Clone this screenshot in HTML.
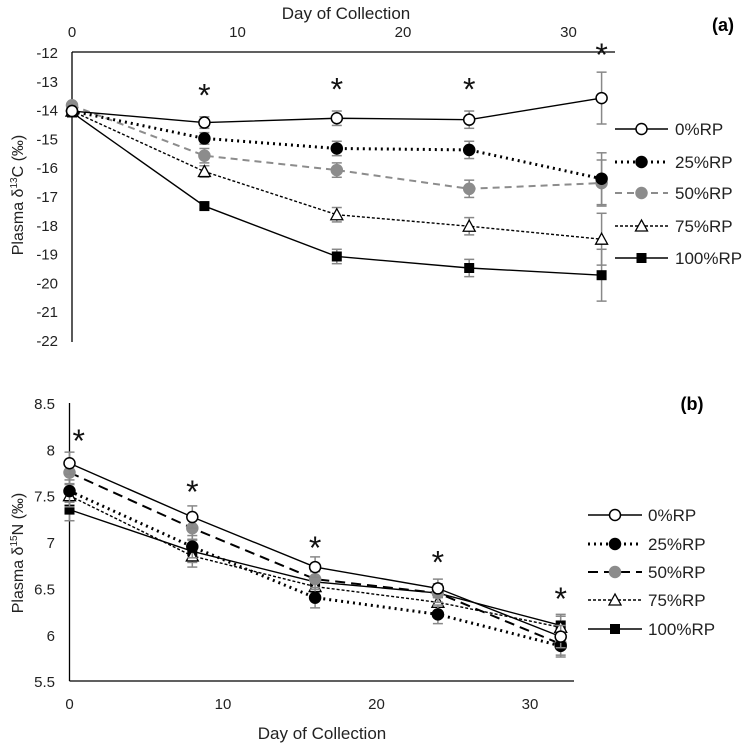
<!DOCTYPE html>
<html><head><meta charset="utf-8"><style>
html,body{margin:0;padding:0;background:#fff;}
svg{display:block;font-family:"Liberation Sans",sans-serif;}
</style></head><body>
<svg id="chart" width="751" height="746" viewBox="0 0 751 746" xmlns="http://www.w3.org/2000/svg"></svg>
<script>
const days = [0, 8, 16, 24, 32];
const seriesNames = ["0%RP", "25%RP", "50%RP", "75%RP", "100%RP"];
// Panel (a) δ13C
const c0 = [-14.05, -14.45, -14.3, -14.35, -13.6];
const c25 = [-14.05, -15.0, -15.35, -15.4, -16.4];
const c50 = [-13.85, -15.6, -16.1, -16.75, -16.55];
const c75 = [-14.05, -16.15, -17.65, -18.05, -18.5];
const c100 = [-14.1, -17.35, -19.1, -19.5, -19.75];
const cErr0 = [0.1, 0.2, 0.25, 0.3, 0.9];
const cErr25 = [0.1, 0.2, 0.25, 0.3, 0.9];
const cErr50 = [0.1, 0.25, 0.25, 0.3, 0.8];
const cErr75 = [0.1, 0.2, 0.25, 0.3, 0.9];
const cErr100 = [0.1, 0.1, 0.25, 0.3, 0.9];
const aTicksX = [0, 10, 20, 30];
const aTicksY = [-12, -13, -14, -15, -16, -17, -18, -19, -20, -21, -22];
const aStarDays = [8, 16, 24, 32];
const aStarVals = [-13.4, -13.2, -13.2, -12.0];
// Panel (b) δ15N
const n0 = [7.85, 7.27, 6.73, 6.5, 5.98];
const n25 = [7.55, 6.95, 6.4, 6.22, 5.88];
const n50 = [7.75, 7.15, 6.6, 6.45, 5.9];
const n75 = [7.5, 6.85, 6.52, 6.35, 6.08];
const n100 = [7.35, 6.9, 6.57, 6.45, 6.1];
const nErr = [0.12, 0.12, 0.11, 0.1, 0.12];
const bTicksX = [0, 10, 20, 30];
const bTicksY = [8.5, 8, 7.5, 7, 6.5, 6, 5.5];
const bStarDays = [0.6, 8, 16, 24, 32];
const bStarVals = [8.12, 7.57, 6.97, 6.81, 6.42];

const svg = document.getElementById('chart');
const NS = 'http://www.w3.org/2000/svg';
function mk(tag, attrs, parent) {
  const e = document.createElementNS(NS, tag);
  for (const k in attrs) e.setAttribute(k, attrs[k]);
  (parent || svg).appendChild(e);
  return e;
}
const axA = { x: d => 72 + d * 16.55, y: v => 52 + (-12 - v) * 28.8 };
const axB = { x: d => 69.5 + d * 15.35, y: v => 403 + (8.5 - v) * 92.7 };

const stylesA = [
  {stroke:'#000', dash:'', marker:'circle', fill:'#fff', mc:'#000', ec:'#888'},
  {stroke:'#000', dash:'2,4', marker:'circle', fill:'#000', mc:'#000', ec:'#888', w:3},
  {stroke:'#8c8c8c', dash:'7,5', marker:'circle', fill:'#8c8c8c', mc:'#8c8c8c', ec:'#888', w:2},
  {stroke:'#000', dash:'3,2', marker:'tri', fill:'#fff', mc:'#000', ec:'#888'},
  {stroke:'#000', dash:'', marker:'square', fill:'#000', mc:'#000', ec:'#888'}
];
const stylesB = stylesA.map((s,i)=> i===2 ? Object.assign({}, s, {stroke:'#000', dash:'10,6'}) : s);

function marker(g, type, x, y, st) {
  let m;
  if (type === 'circle') m = mk('circle', {cx:x, cy:y, r:5.5, fill:st.fill, stroke:st.mc, 'stroke-width':1.5}, g);
  else if (type === 'tri') m = mk('polygon', {points:`${x},${y-6} ${x-6},${y+5} ${x+6},${y+5}`, fill:st.fill, stroke:st.mc, 'stroke-width':1.3}, g);
  else m = mk('rect', {x:x-5, y:y-5, width:10, height:10, fill:st.fill}, g);
  
  
}

function drawSeries(ax, vals, errs, st, name) {
  const g = mk('g', {});
  
  
  days.forEach((d, i) => {
    const x = ax.x(d), y1 = ax.y(vals[i] + errs[i]), y2 = ax.y(vals[i] - errs[i]);
    mk('line', {x1:x, x2:x, y1:y1, y2:y2, stroke:st.ec, 'stroke-width':1.5}, g);
    mk('line', {x1:x-5, x2:x+5, y1:y1, y2:y1, stroke:st.ec, 'stroke-width':1.5}, g);
    mk('line', {x1:x-5, x2:x+5, y1:y2, y2:y2, stroke:st.ec, 'stroke-width':1.5}, g);
  });
  const pts = days.map((d, i) => `${ax.x(d)},${ax.y(vals[i])}`).join(' ');
  const pl = mk('polyline', {points:pts, fill:'none', stroke:st.stroke, 'stroke-width':st.w || 1.4, 'stroke-dasharray':st.dash}, g);
  
  
  days.forEach((d, i) => marker(g, st.marker, ax.x(d), ax.y(vals[i]), st));
}

function text(x, y, s, attrs, name) {
  const t = mk('text', Object.assign({x:x, y:y, 'font-size':15, fill:'#222'}, attrs));
  t.textContent = s;
  
  
  return t;
}

function legend(x0, x1, tx, rows, styles, prefix) {
  rows.forEach((ry, i) => {
    const st = styles[i];
    const g = mk('g', {});
    
    
    mk('line', {x1:x0, x2:x1, y1:ry, y2:ry, stroke:st.stroke, 'stroke-width':st.w || 1.4, 'stroke-dasharray':st.dash}, g);
    marker(g, st.marker, (x0 + x1) / 2, ry, st);
    const t = mk('text', {x:tx, y:ry + 6, 'font-size':17, fill:'#222'}, g);
    t.textContent = seriesNames[i];
  });
}

// ---------- Panel A ----------
const aAxisX = mk('line', {x1:72, x2:615, y1:52, y2:52, stroke:'#000', 'stroke-width':1.3});
 
const aAxisY = mk('line', {x1:72, x2:72, y1:52, y2:342, stroke:'#000', 'stroke-width':1.3});
 
aTicksX.forEach(v => text(axA.x(v), 37, String(v), {'text-anchor':'middle'}, 'a-x-tick-label'));
aTicksY.forEach(v => text(58, axA.y(v) + 6, String(v), {'text-anchor':'end'}, 'a-y-tick-label'));
text(346, 19, 'Day of Collection', {'text-anchor':'middle', 'font-size':17}, 'a-x-axis-title');
const aYT = text(0, 0, '', {'text-anchor':'middle', 'font-size':16, transform:'translate(23,195) rotate(-90)'}, 'a-y-axis-title');
aYT.innerHTML = 'Plasma δ<tspan dy="-6" font-size="10">13</tspan><tspan dy="6">C (‰)</tspan>';
text(723, 31, '(a)', {'text-anchor':'middle', 'font-size':18, 'font-weight':'bold', fill:'#000'}, 'panel-a-label');
const cVals = [c0, c25, c50, c75, c100];
const cErrs = [cErr0, cErr25, cErr50, cErr75, cErr100];
[4,3,2,1,0].forEach(i => drawSeries(axA, cVals[i], cErrs[i], stylesA[i], 'a-series-' + seriesNames[i].replace('%','pct-').toLowerCase()));
aStarDays.forEach((d, i) => text(axA.x(d), axA.y(aStarVals[i]) + 14, '*', {'text-anchor':'middle', 'font-size':32, fill:'#111'}, 'a-significance-star'));
legend(615, 668, 675, [129, 162, 193, 226, 258], stylesA, 'a');

// ---------- Panel B ----------
const bAxisX = mk('line', {x1:69.5, x2:574, y1:681, y2:681, stroke:'#000', 'stroke-width':1.3});
 
const bAxisY = mk('line', {x1:69.5, x2:69.5, y1:403, y2:681, stroke:'#000', 'stroke-width':1.3});
 
bTicksX.forEach(v => text(axB.x(v), 709, String(v), {'text-anchor':'middle'}, 'b-x-tick-label'));
bTicksY.forEach(v => text(55, axB.y(v) + 6, String(v), {'text-anchor':'end'}, 'b-y-tick-label'));
text(322, 739, 'Day of Collection', {'text-anchor':'middle', 'font-size':17}, 'b-x-axis-title');
const bYT = text(0, 0, '', {'text-anchor':'middle', 'font-size':16, transform:'translate(23,553) rotate(-90)'}, 'b-y-axis-title');
bYT.innerHTML = 'Plasma δ<tspan dy="-6" font-size="10">15</tspan><tspan dy="6">N (‰)</tspan>';
text(692, 410, '(b)', {'text-anchor':'middle', 'font-size':18, 'font-weight':'bold', fill:'#000'}, 'panel-b-label');
const nVals = [n0, n25, n50, n75, n100];
[4,3,2,1,0].forEach(i => drawSeries(axB, nVals[i], nErr, stylesB[i], 'b-series-' + seriesNames[i].replace('%','pct-').toLowerCase()));
bStarDays.forEach((d, i) => text(axB.x(d), axB.y(bStarVals[i]) + 14, '*', {'text-anchor':'middle', 'font-size':32, fill:'#111'}, 'b-significance-star'));
legend(588, 642, 648, [515, 544, 572, 600, 629], stylesB, 'b');
</script>
</body></html>
